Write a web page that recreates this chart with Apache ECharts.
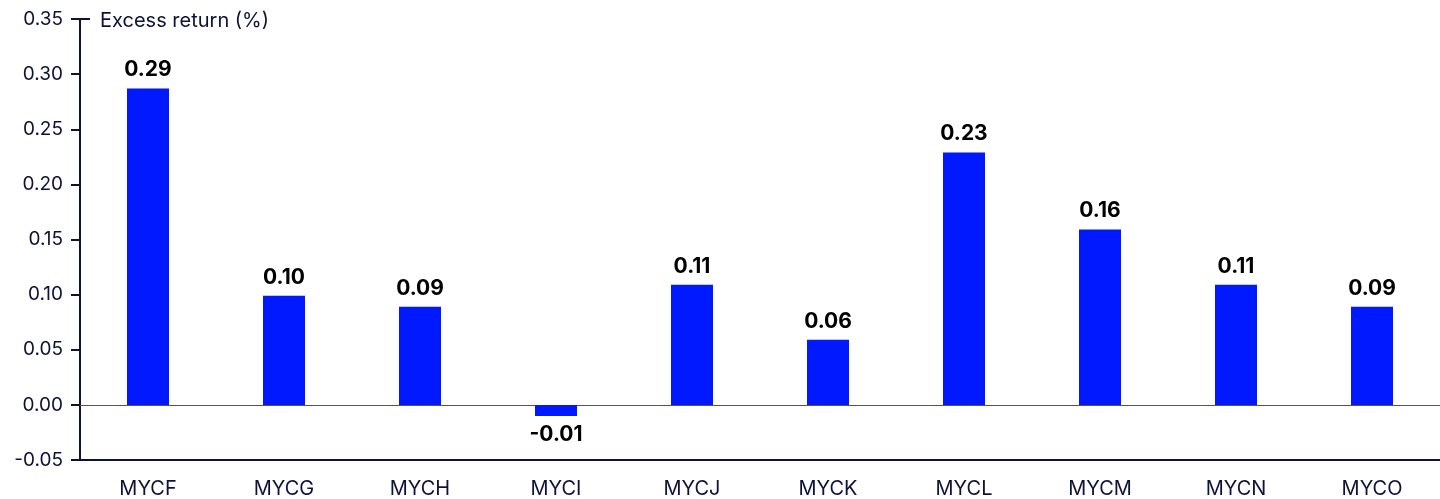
<!DOCTYPE html>
<html>
<head>
<meta charset="utf-8">
<script src="https://cdn.jsdelivr.net/npm/echarts@6/dist/echarts.min.js"></script>
<style>
html,body{margin:0;padding:0;background:#fff;}
#chart{width:1440px;height:499px;}
</style>
</head>
<body>
<div id="chart"></div>
<script>
const categories = ['MYCF','MYCG','MYCH','MYCI','MYCJ','MYCK','MYCL','MYCM','MYCN','MYCO'];
const excessReturn = [0.287, 0.099, 0.089, -0.010, 0.109, 0.059, 0.229, 0.159, 0.109, 0.089];
const yTicks = { min: -0.05, max: 0.35, interval: 0.05 };
const axisTitle = 'Excess return (%)';

const navy = '#0c1238';
const chart = echarts.init(document.getElementById('chart'));
chart.setOption({
  animation: false,
  textStyle: { fontFamily: 'Inter' },
  title: {
    text: axisTitle,
    left: 95, top: 6,
    textStyle: { fontFamily: 'Inter', fontSize: 20, fontWeight: 'normal', color: navy }
  },
  graphic: [{
    type: 'line',
    shape: { x1: 80, y1: 19, x2: 90, y2: 19 },
    style: { stroke: navy, lineWidth: 2 }
  }],
  grid: { left: 80, right: -1, top: 19, bottom: 38, containLabel: false },
  xAxis: [{
    type: 'category',
    data: categories,
    position: 'bottom',
    axisLine: { onZero: false, lineStyle: { color: navy, width: 2 } },
    axisTick: { alignWithLabel: true, length: 7, lineStyle: { color: navy, width: 2 } },
    axisLabel: { color: navy, fontSize: 20, margin: 19, fontFamily: 'Inter' },
    splitLine: { show: false }
  }, {
    type: 'category',
    data: categories,
    position: 'bottom',
    axisLine: { onZero: true, lineStyle: { color: '#555', width: 1.2 } },
    axisTick: { show: false },
    axisLabel: { show: false },
    splitLine: { show: false }
  }],
  yAxis: {
    type: 'value',
    min: yTicks.min, max: yTicks.max, interval: yTicks.interval,
    axisLine: { show: true, lineStyle: { color: navy, width: 2 } },
    axisTick: { show: true, length: 9, lineStyle: { color: navy, width: 2 } },
    axisLabel: { color: navy, fontSize: 19, margin: 17, fontFamily: 'Inter',
      formatter: v => v.toFixed(2) },
    splitLine: { show: false }
  },
  series: [{
    type: 'bar',
    data: excessReturn,
    barWidth: 42,
    itemStyle: { color: '#0019ff' },
    label: {
      show: true,
      position: 'outside',
      fontFamily: 'Inter', fontSize: 21, fontWeight: 'bold', color: '#000',
      distance: 8,
      formatter: p => p.value.toFixed(2)
    }
  }]
});
</script>
</body>
</html>
